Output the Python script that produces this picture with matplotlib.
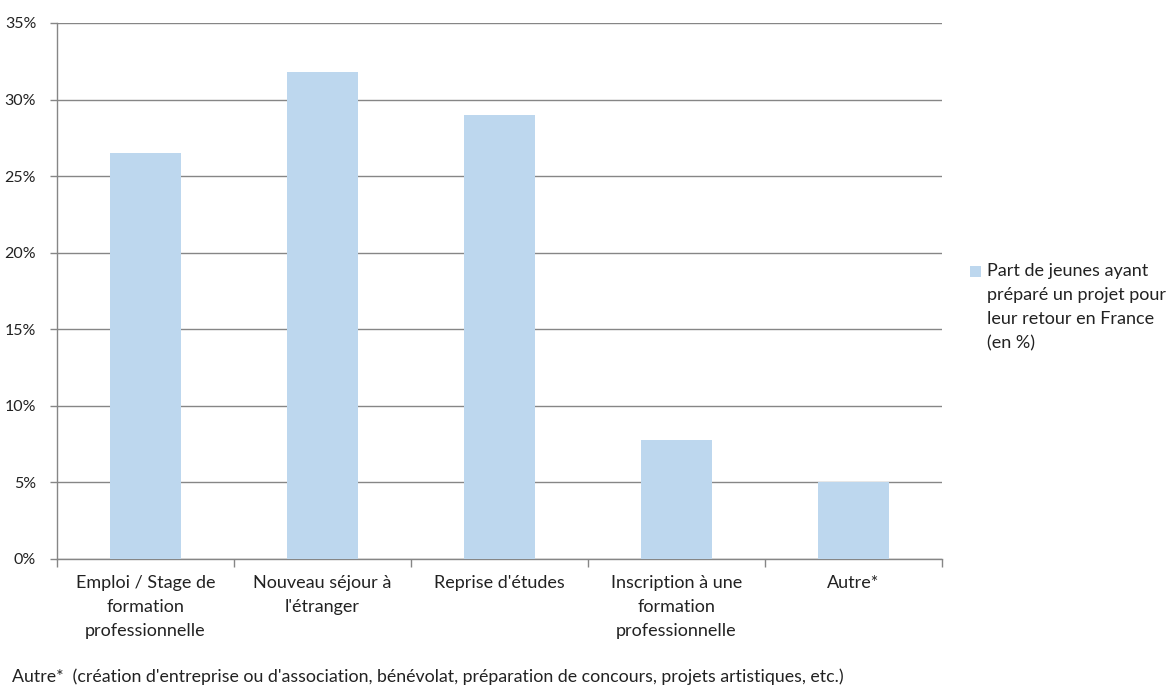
import numpy as np
import matplotlib.pyplot as plt
from matplotlib.patches import Rectangle

# data
categories = ["Emploi / Stage de\nformation\nprofessionnelle",
              "Nouveau séjour à\nl'étranger",
              "Reprise d'études",
              "Inscription à une\nformation\nprofessionnelle",
              "Autre*"]
values = [26.5, 31.8, 29.0, 7.8, 5.0]
yticks = [0, 5, 10, 15, 20, 25, 30, 35]
series_label = "Part de jeunes ayant\npréparé un projet pour\nleur retour en France\n(en %)"
footnote = ("Autre*  (création d'entreprise ou d'association, bénévolat, "
            "préparation de concours, projets artistiques, etc.)")

plt.rcParams['font.family'] = ['Lato', 'DejaVu Sans']
bar_color = "#bdd7ee"
grid_color = "#868686"
text_color = "#222222"

fig = plt.figure(figsize=(11.74, 6.86), dpi=100)
ax = fig.add_axes([57 / 1174, 1 - 559 / 686, 885 / 1174, 536 / 686])

x = np.arange(len(categories))
ax.bar(x, values, width=0.4, color=bar_color, zorder=3)

ax.set_xlim(-0.5, len(categories) - 0.5)
ax.set_ylim(0, 35)
ax.set_yticks(yticks)
ax.set_yticklabels([f"{v}%" for v in yticks], fontsize=11.5, color=text_color)
ax.yaxis.grid(True, color=grid_color, linewidth=1, zorder=0)

# category labels centred under each bar, ticks on the boundaries
ax.set_xticks(np.arange(len(categories) + 1) - 0.5)
ax.set_xticklabels([])
ax.tick_params(axis='x', length=6, color=grid_color, width=1)
ax.tick_params(axis='y', length=5, color=grid_color, width=1, pad=10)
for xi, lab in zip(x, categories):
    ax.text(xi, -1.05, lab, ha='center', va='top', fontsize=13,
            color=text_color, linespacing=1.62)

for side in ['top', 'right']:
    ax.spines[side].set_visible(False)
for side in ['left', 'bottom']:
    ax.spines[side].set_color(grid_color)
    ax.spines[side].set_linewidth(1)

# legend key square next to the first line, Excel style
fig.add_artist(Rectangle((970 / 1174, 1 - 277 / 686), 11 / 1174, 11 / 686,
                         transform=fig.transFigure, facecolor=bar_color,
                         edgecolor='none'))
fig.text(987 / 1174, 1 - 263 / 686, series_label, ha='left', va='top',
         fontsize=13, color=text_color, linespacing=1.62)

fig.text(12 / 1174, 1 - 677 / 686, footnote, ha='left', va='center',
         fontsize=12.8, color=text_color)

fig.savefig("out.png", dpi=100)
